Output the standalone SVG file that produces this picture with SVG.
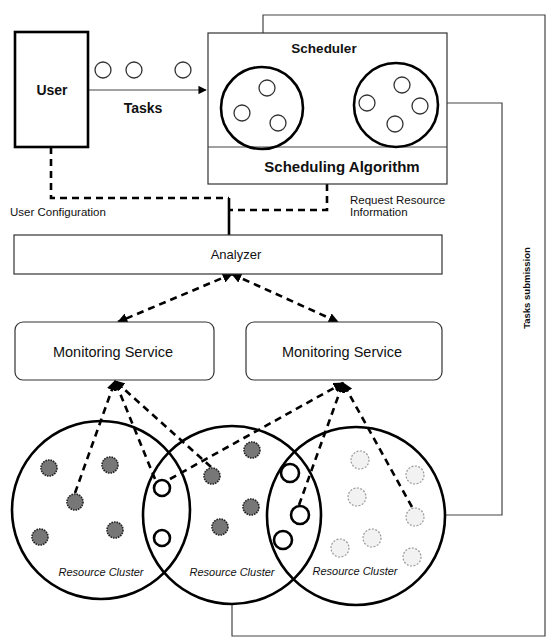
<svg xmlns="http://www.w3.org/2000/svg" width="549" height="639" viewBox="0 0 549 639">
  <style>
    text { font-family: "Liberation Sans", Arial, sans-serif; fill: #111; }
    .lbl { text-anchor: middle; dominant-baseline: central; }
    .b { font-weight: bold; }
    .box { fill: #fff; stroke: #333; stroke-width: 1.2; }
    .thickbox { fill: #fff; stroke: #000; stroke-width: 2.6; }
    .pool { fill: none; stroke: #000; stroke-width: 2.6; }
    .task { fill: #fff; stroke: #333; stroke-width: 1.3; }
    .cluster { fill: none; stroke: #000; stroke-width: 2.6; }
    .node { fill: #777; stroke: #222; stroke-width: 1.6; stroke-dasharray: 1.6 1; }
    .open { fill: #fff; stroke: #000; stroke-width: 2.6; }
    .idle { fill: #f2f2f2; stroke: #999; stroke-width: 1.2; stroke-dasharray: 2 1.5; }
    .dash { fill: none; stroke: #000; stroke-width: 2.6; stroke-dasharray: 7 5; }
    .thin { fill: none; stroke: #444; stroke-width: 1.2; }
    .cl { font-style: italic; font-size: 11px; }
  </style>
  <defs>
    <marker id="ah" viewBox="0 0 10 10" refX="9" refY="5" markerWidth="4" markerHeight="4" orient="auto-start-reverse" markerUnits="strokeWidth">
      <path d="M0,0 L10,5 L0,10 z" fill="#000"/>
    </marker>
    <marker id="ahs" viewBox="0 0 10 10" refX="9" refY="5" markerWidth="7" markerHeight="7" orient="auto" markerUnits="strokeWidth">
      <path d="M0,0 L10,5 L0,10 z" fill="#000"/>
    </marker>
  </defs>

  <!-- connectors -->
  <g id="connectors">
    <!-- tasks from the user to the scheduler -->
    <path class="thin" d="M88,90 H206" stroke-width="1.6" marker-end="url(#ahs)"/>
    <!-- user configuration and resource request into the analyzer -->
    <path class="dash" d="M51,147 V198 H229"/>
    <path class="dash" d="M327,184 V210 H229"/>
    <path d="M229,198 V235" stroke="#000" stroke-width="2.6" fill="none"/>
    <!-- analyzer to monitoring services -->
    <path class="dash" d="M232,274 L118,322" marker-start="url(#ah)" marker-end="url(#ah)"/>
    <path class="dash" d="M232,274 L338,322" marker-start="url(#ah)" marker-end="url(#ah)"/>
    <!-- left monitoring service to nodes -->
    <path class="dash" d="M75,493 L115,381" marker-end="url(#ah)"/>
    <path class="dash" d="M155,479 L115,381" marker-end="url(#ah)"/>
    <path class="dash" d="M211,467 L115,381" marker-end="url(#ah)"/>
    <!-- right monitoring service to nodes -->
    <path class="dash" d="M170,479 L343,383" marker-end="url(#ah)"/>
    <path class="dash" d="M299,505 L343,383" marker-end="url(#ah)"/>
    <path class="dash" d="M412,507 L343,383" marker-end="url(#ah)"/>
    <!-- cluster back to the scheduler -->
    <path class="thin" d="M445,515 H502 V103 H439"/>
    <!-- tasks submission loop -->
    <path class="thin" d="M232,604 V636 H545 V15 H263 V67"/>
  </g>

  <!-- user -->
  <g id="user">
    <rect class="thickbox" x="15" y="32" width="73" height="115"/>
    <text class="lbl b" x="52" y="90" font-size="14">User</text>
  </g>

  <!-- queued tasks -->
  <g id="tasks">
    <circle class="task" cx="103" cy="70" r="8"/>
    <circle class="task" cx="134" cy="70" r="8"/>
    <circle class="task" cx="183" cy="70" r="8"/>
    <text class="lbl b" x="143" y="108" font-size="14">Tasks</text>
  </g>

  <!-- scheduler -->
  <g id="scheduler">
    <rect class="box" x="208" y="33" width="239" height="151"/>
    <line class="thin" x1="208" y1="147" x2="447" y2="147"/>
    <text class="lbl b" x="324" y="48" font-size="13.5">Scheduler</text>
    <circle class="pool" cx="262" cy="108" r="41"/>
    <circle class="task" cx="267" cy="88" r="8"/>
    <circle class="task" cx="242" cy="113" r="8"/>
    <circle class="task" cx="278" cy="123" r="8"/>
    <circle class="pool" cx="396" cy="105" r="42"/>
    <circle class="task" cx="402" cy="85" r="8"/>
    <circle class="task" cx="367" cy="103" r="8"/>
    <circle class="task" cx="420" cy="106" r="8"/>
    <circle class="task" cx="395" cy="124" r="8"/>
    <text class="lbl b" x="342" y="166" font-size="15">Scheduling Algorithm</text>
  </g>

  <!-- side labels -->
  <g id="labels">
    <text x="10" y="216" font-size="11.5">User Configuration</text>
    <text x="350" y="204" font-size="11.5">Request Resource</text>
    <text x="350" y="216" font-size="11.5">Information</text>
    <text class="lbl b" transform="translate(526,288) rotate(-90)" font-size="9.5">Tasks submission</text>
  </g>

  <!-- analyzer -->
  <g id="analyzer">
    <rect class="box" x="14" y="235" width="428" height="39"/>
    <text class="lbl" x="236" y="254" font-size="13">Analyzer</text>
  </g>

  <!-- monitoring services -->
  <g id="monitor-left">
    <rect class="box" x="15" y="322" width="199" height="58" rx="8"/>
    <text class="lbl" x="113" y="352" font-size="14.5">Monitoring Service</text>
  </g>
  <g id="monitor-right">
    <rect class="box" x="246" y="322" width="196" height="58" rx="8"/>
    <text class="lbl" x="342" y="352" font-size="14.5">Monitoring Service</text>
  </g>

  <!-- resource clusters -->
  <g id="cluster-left">
    <circle class="cluster" cx="101" cy="510" r="89"/>
    <circle class="node" cx="49" cy="468" r="8"/>
    <circle class="node" cx="110" cy="465" r="8"/>
    <circle class="node" cx="75" cy="502" r="8"/>
    <circle class="node" cx="40" cy="537" r="8"/>
    <circle class="node" cx="115" cy="530" r="8"/>
    <text class="lbl cl" x="101" y="572">Resource Cluster</text>
  </g>
  <g id="cluster-middle">
    <circle class="cluster" cx="232" cy="515" r="89"/>
    <circle class="open" cx="162" cy="488" r="8"/>
    <circle class="open" cx="162" cy="538" r="8"/>
    <circle class="node" cx="252" cy="450" r="8"/>
    <circle class="node" cx="212" cy="476" r="8"/>
    <circle class="node" cx="251" cy="507" r="8"/>
    <circle class="node" cx="220" cy="527" r="8"/>
    <text class="lbl cl" x="232" y="572">Resource Cluster</text>
  </g>
  <g id="cluster-right">
    <circle class="cluster" cx="356" cy="516" r="89"/>
    <circle class="open" cx="290" cy="473" r="9"/>
    <circle class="open" cx="300" cy="515" r="9"/>
    <circle class="open" cx="283" cy="540" r="9"/>
    <circle class="idle" cx="360" cy="460" r="9"/>
    <circle class="idle" cx="415" cy="475" r="9"/>
    <circle class="idle" cx="357" cy="497" r="9"/>
    <circle class="idle" cx="415" cy="517" r="9"/>
    <circle class="idle" cx="372" cy="538" r="9"/>
    <circle class="idle" cx="340" cy="548" r="9"/>
    <circle class="idle" cx="412" cy="557" r="9"/>
    <text class="lbl cl" x="355" y="571">Resource Cluster</text>
  </g>
</svg>
